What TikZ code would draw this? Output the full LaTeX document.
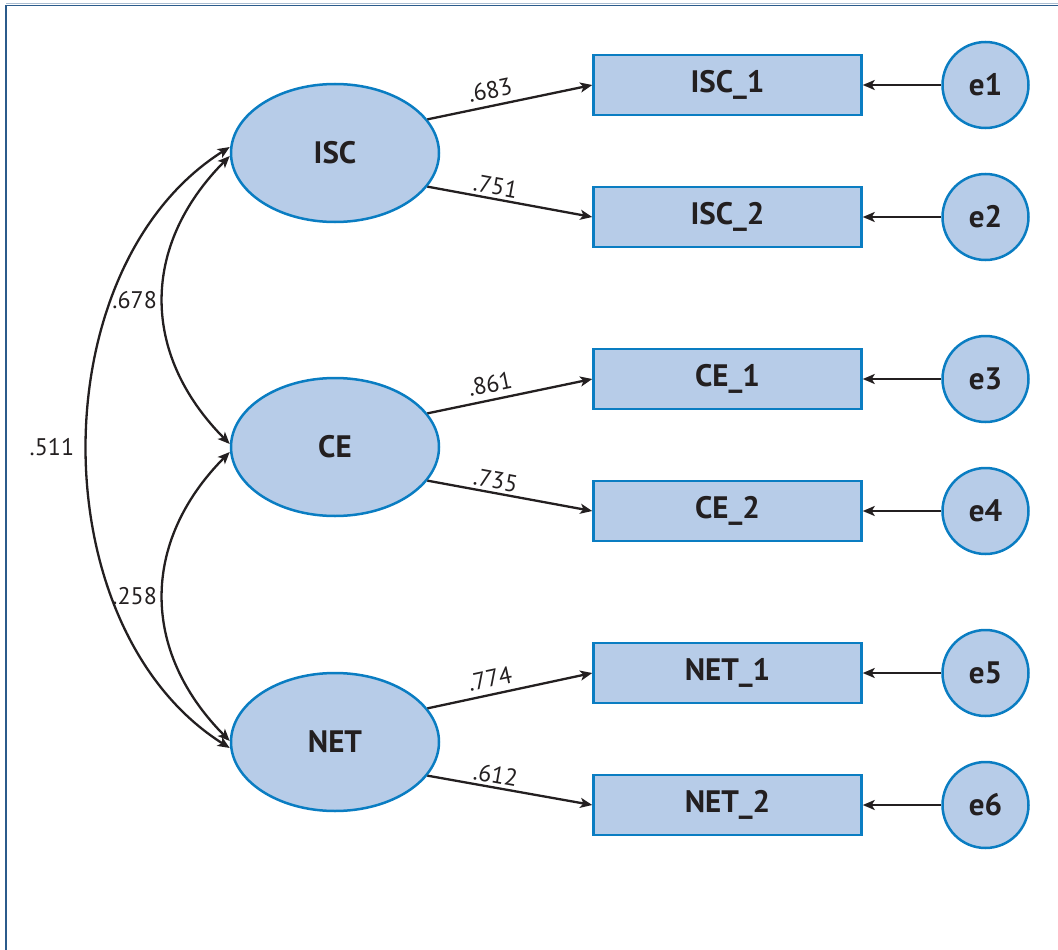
\documentclass[tikz,border=0pt]{standalone}
\usepackage{fontspec}
\setmainfont{PT Sans}
\usetikzlibrary{arrows.meta,shapes.geometric}
\definecolor{fillb}{HTML}{B7CCE8}
\definecolor{lineb}{HTML}{0A7DC2}
\definecolor{ink}{HTML}{231F20}
\definecolor{framec}{HTML}{2B5B8B}
\begin{document}
\begin{tikzpicture}[x=1pt,y=-1pt,
  every node/.style={text=ink},
  latent/.style={ellipse, draw=lineb, line width=2.5pt, fill=fillb,
    minimum width=208pt, minimum height=138pt, inner sep=0pt,
    font=\bfseries\fontsize{31}{34}\selectfont},
  obs/.style={rectangle, draw=lineb, line width=2.5pt, fill=fillb,
    minimum width=268pt, minimum height=60pt, inner sep=0pt,
    font=\bfseries\fontsize{31}{34}\selectfont},
  err/.style={circle, draw=lineb, line width=2.5pt, fill=fillb,
    minimum size=86pt, inner sep=0pt,
    font=\bfseries\fontsize{31}{34}\selectfont},
  arr/.style={draw=ink, line width=2.3pt, -{Stealth[length=12pt,width=10pt,inset=3pt]}},
  cov/.style={draw=ink, line width=2.3pt, {Stealth[length=12pt,width=10pt,inset=3pt]}-{Stealth[length=12pt,width=10pt,inset=3pt]}},
  lab/.style={font=\fontsize{24}{27}\selectfont, inner sep=2pt},
]
\useasboundingbox (0,0) rectangle (1058,950);
\draw[framec!40, line width=1pt] (6,3.5) -- (1058,3.5);
\draw[framec, line width=1.6pt] (6,950) -- (6,5.5) -- (1058,5.5);

\node[latent] (isc) at (335,153) {ISC};
\node[latent] (ce)  at (335,447) {CE};
\node[latent] (net) at (335,742) {NET};

\node[obs] (isc1) at (727.5,85)  {ISC\_1};
\node[obs] (isc2) at (727.5,217) {ISC\_2};
\node[obs] (ce1)  at (727.5,379) {CE\_1};
\node[obs] (ce2)  at (727.5,511) {CE\_2};
\node[obs] (net1) at (727.5,673) {NET\_1};
\node[obs] (net2) at (727.5,805) {NET\_2};

\node[err] (e1) at (985.5,85)  {e1};
\node[err] (e2) at (985.5,217) {e2};
\node[err] (e3) at (985.5,379) {e3};
\node[err] (e4) at (985.5,511) {e4};
\node[err] (e5) at (985.5,673) {e5};
\node[err] (e6) at (985.5,805) {e6};

\draw[arr] (isc.20) -- node[lab, sloped, above=4pt, pos=0.4] {.683} (isc1.west);
\draw[arr] (isc.-20) -- node[lab, sloped, above=1pt, pos=0.4] {.751} (isc2.west);
\draw[arr] (ce.20) -- node[lab, sloped, above=4pt, pos=0.4] {.861} (ce1.west);
\draw[arr] (ce.-20) -- node[lab, sloped, above=1pt, pos=0.4] {.735} (ce2.west);
\draw[arr] (net.20) -- node[lab, sloped, above=4pt, pos=0.4] {.774} (net1.west);
\draw[arr] (net.-20) -- node[lab, sloped, above=1pt, pos=0.4] {.612} (net2.west);

\draw[arr] (e1) -- (isc1);
\draw[arr] (e2) -- (isc2);
\draw[arr] (e3) -- (ce1);
\draw[arr] (e4) -- (ce2);
\draw[arr] (e5) -- (net1);
\draw[arr] (e6) -- (net2);

\draw[cov] ([yshift=-3pt]isc.west) .. controls +(-89,90) and +(-89,-90) ..
  node[lab, pos=0.5, left=3pt] {.678} ([yshift=3pt]ce.west);
\draw[cov] ([yshift=-5pt]ce.west) .. controls +(-89,90) and +(-89,-90) ..
  node[lab, pos=0.5, left=3pt] {.258} ([yshift=1pt]net.west);
\draw[cov] ([yshift=6pt]isc.west) .. controls +(-190,120) and +(-190,-120) ..
  node[lab, pos=0.5, left=10pt] {.511} ([yshift=-6pt]net.west);
\end{tikzpicture}
\end{document}
